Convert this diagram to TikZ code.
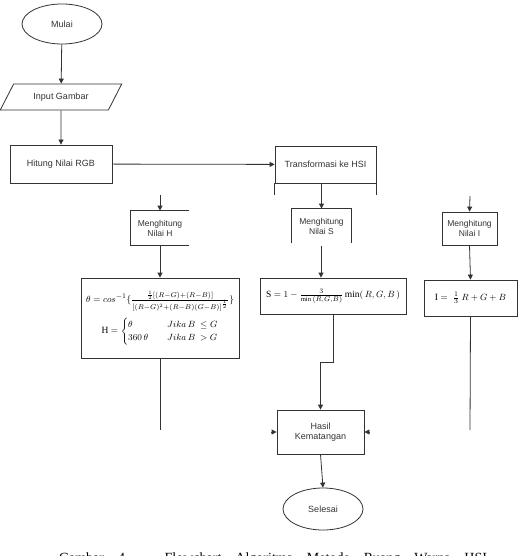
\documentclass[tikz,border=0pt]{standalone}
\usepackage{amsmath}
\usepackage{fontspec}
\setmainfont{Liberation Serif}
\newfontfamily\flowfont{Liberation Sans}
\usetikzlibrary{arrows.meta,calc,positioning,shapes.geometric}

\begin{document}
\begin{tikzpicture}[x=1pt,y=-1pt,
  line width=0.8pt,draw=black!80,
  box/.style={draw,align=center,font=\flowfont\fontsize{9}{10.5}\selectfont,text=black!80,inner sep=1pt},
  smallbox/.style={align=center,font=\flowfont\fontsize{8.5}{10}\selectfont,text=black!80,inner sep=1pt},
  terminal/.style={draw,ellipse,minimum width=80pt,minimum height=40pt,font=\flowfont\fontsize{9}{10.5}\selectfont,text=black!80},
  iobox/.style={draw,trapezium,trapezium left angle=60,trapezium right angle=120,trapezium stretches=true,minimum width=122pt,minimum height=26pt,font=\flowfont\fontsize{9}{10.5}\selectfont,text=black!80},
  formula/.style={draw,align=center,font=\fontsize{9.5}{11}\selectfont,inner sep=1pt},
  >={Triangle[length=5pt,width=5pt]}
]
\useasboundingbox (0,0) rectangle (519,556);
\clip (0,0) rectangle (519,556);
% start, input, rgb
\node[terminal] (mulai) at (62,24) {Mulai};
\node[iobox] (input) at (61,97) {Input Gambar};
\node[box,minimum width=102pt,minimum height=38pt] (rgb) at (61,164) {Hitung Nilai RGB};
\node[box,minimum width=101pt,minimum height=37pt] (trans) at (325.5,164.5) {Transformasi ke HSI};
% H, S, I steps
\node[smallbox,minimum width=58pt,minimum height=34pt] (mh) at (160,228) {Menghitung\\Nilai H};
\node[smallbox,minimum width=59pt,minimum height=34pt] (ms) at (321.5,226) {Menghitung\\Nilai S};
\node[smallbox,draw,minimum width=55pt,minimum height=33pt] (mi) at (469.5,228.5) {Menghitung\\Nilai I};
\node[formula,minimum width=158pt,minimum height=80pt] (fh) at (160,318)
  {$\theta = cos^{-1}\{\frac{\frac{1}{2}[(R-G)+(R-B)]}{[(R-G)^2+(R-B)(G-B)]^{\frac{1}{2}}}\}$\\[6pt]
   $\mathrm{H} = \begin{cases}\theta & \quad Jika\,B\ \le G\\ 360\,\theta & \quad Jika\,B\ > G\end{cases}$};
\node[formula,minimum width=146pt,minimum height=36pt] (fs) at (333,296)
  {$\mathrm{S} = 1-\frac{3}{\min\,(R,G,B)}\min(\,R,G,B\,)$};
\node[formula,minimum width=93pt,minimum height=36pt] (fi) at (470.5,298)
  {$\mathrm{I} =\;\tfrac{1}{3}\ R+G+B$};
% result, end
\node[box,minimum width=87pt,minimum height=44pt] (hasil) at (320.5,432) {Hasil\\Kematangan};
\node[terminal,minimum height=42pt] (selesai) at (323,509) {Selesai};
\node[anchor=base,font=\fontsize{14}{17}\selectfont,inner sep=0pt] (cap) at (273,562.5)
  {\makebox[428pt][s]{Gambar 4. Flowchart Algoritma Metode Ruang Warna HSI}};
% open boxes
\draw (mh.north east) -- (mh.north west) -- (mh.south west) -- (mh.south east);
\draw (ms.south west) -- (ms.north west) -- (ms.north east) -- (ms.south east);
\draw (trans.south west) -- ++(0,12);
\draw (trans.south east) -- ++(0,12);
% free ends
\coordinate (h0) at (160,195);
\coordinate (i0) at (470,196);
\coordinate (s0) at (321,246);
\coordinate (hend) at (160,430);
\coordinate (iend) at (470,430);
\coordinate (hl) at (271,432);
\coordinate (hr) at (370,432);
% connectors
\draw[->] (mulai) -- (input);
\draw[->] (input) -- (rgb);
\draw[->] (rgb) -- (trans);
\draw[->] (ms.north |- trans.south) -- (ms.north);
\draw[->] (h0) -- (mh.north);
\draw[->] (i0) -- (mi.north);
\draw[->] (mh.south) -- (fh.north);
\draw[->] (s0) -- (s0 |- fs.north);
\draw[->] (mi.south) -- (fi.north);
\draw (fh.south) -- (hend);
\draw (fi.south) -- (iend);
\draw[->] (fs.south) -- ++(0,48) -| (hasil.north);
\draw[->] (hl) -- (hasil.west);
\draw[->] (hr) -- (hasil.east);
\draw[->] (hasil.south) -- (selesai.north);
\end{tikzpicture}
\end{document}
